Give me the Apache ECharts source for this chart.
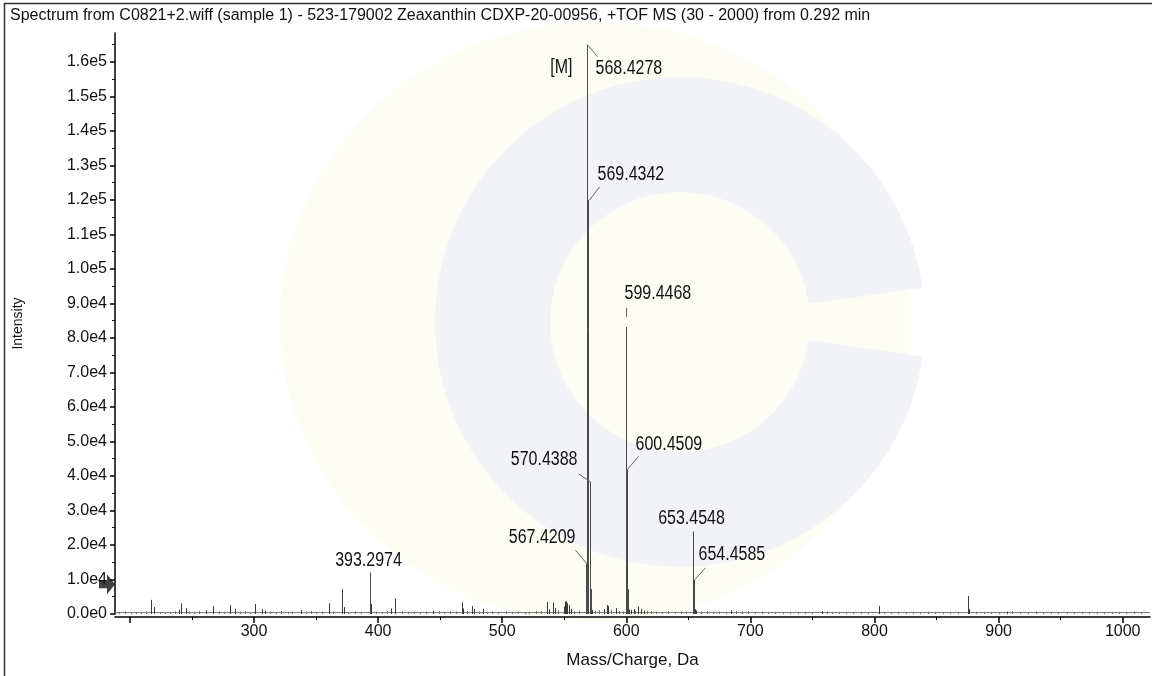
<!DOCTYPE html>
<html>
<head>
<meta charset="utf-8">
<script src="https://cdn.jsdelivr.net/npm/echarts@6/dist/echarts.min.js"></script>
<style>html,body{margin:0;padding:0;background:#fff}#c{width:1152px;height:676px}</style>
</head>
<body>
<div id="c"></div>
<script>
// ---------------- data ----------------
const TITLE = 'Spectrum from C0821+2.wiff (sample 1) - 523-179002 Zeaxanthin CDXP-20-00956, +TOF MS (30 - 2000) from 0.292 min';
const X_MIN = 188, X_MAX = 1022;
const Y_MAX = 168400;
const xTickLabels = [300, 400, 500, 600, 700, 800, 900, 1000];
const xMajorTicks = [200, 300, 400, 500, 600, 700, 800, 900, 1000];
const xMinorTicks = [250, 350, 450, 550, 650, 750, 850, 950];
const yTickValues = [0, 10000, 20000, 30000, 40000, 50000, 60000, 70000, 80000, 90000, 100000, 110000, 120000, 130000, 140000, 150000, 160000];
const yMinorTicks = [5000, 15000, 25000, 35000, 45000, 55000, 65000, 75000, 85000, 95000, 105000, 115000, 125000, 135000, 145000, 155000, 165000];

// main labelled peaks [m/z, intensity]
const majorPeaks = [
  [393.2974, 12000], [567.4209, 14700], [568.4278, 165000], [569.4342, 120000],
  [570.4388, 38300], [571.44, 7200], [599.4468, 83200], [600.4509, 41900],
  [601.45, 7200], [653.4548, 23900], [654.4585, 9900]
];
// smaller visible peaks
const minorPeaks = [
  [217.3, 4100], [219.4, 2000], [239.3, 1300], [240.9, 3100], [244.9, 1700], [261, 1100],
  [267, 2300], [281, 2600], [285, 1500], [300.8, 2900], [306.5, 1400], [309, 1000],
  [338, 1200], [360.4, 3100], [371.1, 7200], [372.4, 2000], [394.3, 2900], [410.8, 1600],
  [413.4, 4500], [444.3, 1000], [467.3, 3400], [468.5, 1600], [476, 2300], [477.1, 1500],
  [484.6, 1500], [536.4, 3500], [537.5, 1400], [541, 3300], [542.4, 1700], [549.9, 2200],
  [550.3, 3600], [551.4, 3700], [552.3, 3100], [553.5, 2600], [555.2, 1500], [572.4, 1200],
  [581.9, 1400], [584.1, 2600], [585.3, 2300], [591.6, 1700], [602.5, 1300], [604, 1200],
  [606.3, 1400], [609.8, 2200], [611.7, 1400], [614.4, 1000], [655.5, 1400], [656.5, 1000],
  [684.2, 1100], [757.8, 800], [803.4, 2300], [875.5, 5200], [876.4, 1400], [907, 700]
];
// baseline noise sticks
const noisePeaks = [
  [191, 500], [196, 700], [201, 450], [205, 600], [209, 550], [213, 700], [224, 650], [228, 500],
  [232, 600], [236, 800], [248, 700], [252, 600], [256, 900], [272, 700], [276, 600], [289, 650],
  [293, 800], [297, 600], [313, 700], [318, 500], [322, 900], [327, 600], [331, 700], [342, 650],
  [346, 900], [350, 600], [355, 700], [364, 600], [376, 500], [381, 700], [386, 600], [398, 700],
  [403, 500], [407, 1000], [419, 800], [424, 600], [429, 700], [434, 500], [439, 700], [449, 900],
  [453, 600], [458, 800], [463, 700], [472, 900], [481, 800], [488, 600], [492, 700], [497, 600],
  [503, 800], [508, 600], [513, 700], [518, 500], [522, 600], [527, 900], [531, 800], [545, 1100],
  [558, 800], [562, 1000], [575, 900], [578, 1100], [588, 1200], [594, 900], [597, 800], [607, 900],
  [617, 900], [620, 800], [624, 700], [629, 600], [634, 800], [639, 600], [644, 700], [648, 600],
  [660, 700], [665, 800], [670, 600], [675, 700], [680, 600], [688, 900], [693, 700], [698, 800],
  [704, 600], [709, 700], [714, 500], [720, 600], [726, 500], [732, 600], [738, 500], [744, 600],
  [750, 500], [762, 700], [766, 600], [771, 500], [777, 600], [783, 500], [789, 600], [795, 500],
  [808, 600], [813, 500], [819, 600], [825, 500], [831, 600], [837, 500], [843, 700], [849, 600],
  [855, 500], [861, 600], [867, 500], [882, 600], [888, 500], [894, 600], [900, 500], [911, 800],
  [917, 600], [924, 500], [930, 700], [936, 500], [942, 600], [948, 500], [955, 600], [961, 500],
  [967, 600], [973, 500], [979, 600], [985, 500], [991, 600], [997, 500], [1003, 600], [1009, 700],
  [1015, 500]
];
const baselineLevel = [[188, 400], [1022, 400]];
// annotations [m/z, intensity, text]
const annotations = [
  [568.4278, 165000, '[M]'], [568.4278, 165000, '568.4278'], [569.4342, 120000, '569.4342'],
  [599.4468, 83200, '599.4468'], [600.4509, 41900, '600.4509'], [570.4388, 38300, '570.4388'],
  [567.4209, 14700, '567.4209'], [653.4548, 23900, '653.4548'], [654.4585, 9900, '654.4585'],
  [393.2974, 12000, '393.2974']
];
const thresholdMarker = [[188, 8600]];

// ---------------- styling ----------------
const SANS = "'Liberation Sans', Arial, sans-serif";
const LABEL_PLACE = {
  '[M]':      {dx: -15, dy: 23, align: 'right'},
  '568.4278': {dx: 8, dy: 24, align: 'left', conn: [0, 0, 10, 12]},
  '569.4342': {dx: 9, dy: -25, align: 'left', conn: [1, 0, 11, -13]},
  '599.4468': {dx: -2, dy: -33, align: 'left', conn: [0, -19, 0, -10]},
  '600.4509': {dx: 8, dy: -25, align: 'left', conn: [0, 0, 11, -13]},
  '570.4388': {dx: -13, dy: -22, align: 'right', conn: [0, 0, -12, -8]},
  '567.4209': {dx: -11, dy: -26, align: 'right', conn: [0, 0, -11, -13]},
  '653.4548': {dx: -2, dy: -13, align: 'center'},
  '654.4585': {dx: 4, dy: -25, align: 'left', conn: [0, 0, 11, -12]},
  '393.2974': {dx: -2, dy: -12, align: 'center'}
};

function yFmt(v) {
  if (v === 0) return '0.0e0';
  if (v >= 100000) return (v / 100000).toFixed(1) + 'e5';
  return (v / 10000).toFixed(1) + 'e4';
}

function stickRender(color) {
  return function (params, api) {
    const m = api.value(0), v = api.value(1);
    const p0 = api.coord([m, 0]);
    const p1 = api.coord([m, v]);
    const px = Math.round(p0[0]) + 0.5;
    return {type: 'line', shape: {x1: px, y1: p0[1], x2: px, y2: p1[1]},
            style: {stroke: color, lineWidth: 1}};
  };
}

function labelRender(params, api) {
  const a = annotations[params.dataIndex];
  const p = api.coord([a[0], a[1]]);
  const px = Math.round(p[0]) + 0.5, py = p[1];
  const pl = LABEL_PLACE[a[2]];
  const children = [{
    type: 'text', x: px + pl.dx, y: py + pl.dy, scaleY: 1.22,
    style: {text: a[2], fill: '#111', font: '16px ' + SANS,
            align: pl.align, verticalAlign: 'middle', textAlign: pl.align, textVerticalAlign: 'middle'}
  }];
  if (pl.conn) {
    const c = pl.conn;
    children.push({type: 'line', shape: {x1: px + c[0], y1: py + c[1], x2: px + c[2], y2: py + c[3]},
                   style: {stroke: '#666', lineWidth: 1}});
  }
  return {type: 'group', children: children};
}

const axisFont = {fontFamily: SANS, fontSize: 16, color: '#111'};

const option = {
  animation: false,
  backgroundColor: '#ffffff',
  title: {text: TITLE, left: 5, top: 3,
          textStyle: {fontFamily: SANS, fontSize: 16, fontWeight: 'normal', color: '#111'}},
  graphic: {elements: [
    {type: 'circle', z: -10, silent: true, shape: {cx: 595, cy: 322, r: 300}, scaleX: 1.05, originX: 595, originY: 322,
     style: {fill: '#fdfdf6'}},
    {type: 'sector', z: -9, silent: true, shape: {cx: 680, cy: 322, r: 245, r0: 130, startAngle: 0.14, endAngle: Math.PI * 2 - 0.14},
     style: {fill: '#f2f3f7'}},
    {type: 'line', z: 5, silent: true, shape: {x1: 4, y1: 3.5, x2: 1152, y2: 3.5}, style: {stroke: '#333', lineWidth: 1.5}},
    {type: 'line', z: 5, silent: true, shape: {x1: 4.5, y1: 3, x2: 4.5, y2: 676}, style: {stroke: '#333', lineWidth: 1.5}}
  ]},
  grid: {left: 115, right: 2, top: 33, bottom: 62},
  xAxis: [
    {type: 'value', min: X_MIN, max: X_MAX, position: 'bottom', offset: 3,
     axisLine: {show: true, onZero: false, lineStyle: {color: '#000', width: 1.5}},
     axisTick: {show: true, customValues: xMajorTicks, length: 6, lineStyle: {color: '#000', width: 1.5}},
     axisLabel: Object.assign({customValues: xTickLabels, margin: 7, formatter: v => String(v)}, axisFont),
     splitLine: {show: false},
     name: 'Mass/Charge, Da', nameLocation: 'middle', nameGap: 35,
     nameTextStyle: {fontFamily: SANS, fontSize: 17, color: '#111'}},
    {type: 'value', min: X_MIN, max: X_MAX, position: 'bottom', offset: 3,
     axisLine: {show: false, onZero: false},
     axisTick: {show: true, customValues: xMinorTicks, length: 3, lineStyle: {color: '#000', width: 1}},
     axisLabel: {show: false}, splitLine: {show: false}}
  ],
  yAxis: [
    {type: 'value', min: 0, max: Y_MAX, position: 'left',
     axisLine: {show: true, lineStyle: {color: '#000', width: 1.5}},
     axisTick: {show: true, customValues: yTickValues, length: 5, lineStyle: {color: '#000', width: 1.5}},
     axisLabel: Object.assign({customValues: yTickValues, formatter: yFmt, margin: 8}, axisFont),
     splitLine: {show: false},
     name: 'Intensity', nameLocation: 'middle', nameGap: 90, nameRotate: 90,
     nameTextStyle: {fontFamily: SANS, fontSize: 14, color: '#111'}},
    {type: 'value', min: 0, max: Y_MAX, position: 'left',
     axisLine: {show: false},
     axisTick: {show: true, customValues: yMinorTicks, length: 3, lineStyle: {color: '#000', width: 1}},
     axisLabel: {show: false}, splitLine: {show: false}}
  ],
  series: [
    {type: 'line', data: baselineLevel, symbol: 'none', silent: true,
     lineStyle: {color: '#777', width: 1}, z: 2},
    {type: 'custom', data: noisePeaks, renderItem: stickRender('#707070'), encode: {x: 0, y: 1}, silent: true, z: 3},
    {type: 'custom', data: minorPeaks, renderItem: stickRender('#3a3a3a'), encode: {x: 0, y: 1}, silent: true, z: 4},
    {type: 'custom', data: majorPeaks, renderItem: stickRender('#4a4a4a'), encode: {x: 0, y: 1}, silent: true, z: 5},
    {type: 'custom', data: annotations.map(a => [a[0], a[1]]), renderItem: labelRender, encode: {x: 0, y: 1},
     clip: false, silent: true, z: 6},
    {type: 'scatter', data: thresholdMarker, clip: false, silent: true, z: 7,
     symbol: 'path://M0,6L8,6L8,0L16,10L8,20L8,14L0,14Z', symbolSize: [16, 20], symbolOffset: [-8, 0],
     itemStyle: {color: '#111'}}
  ]
};

const chart = echarts.init(document.getElementById('c'), null, {renderer: 'canvas'});
chart.setOption(option);
</script>
</body>
</html>
